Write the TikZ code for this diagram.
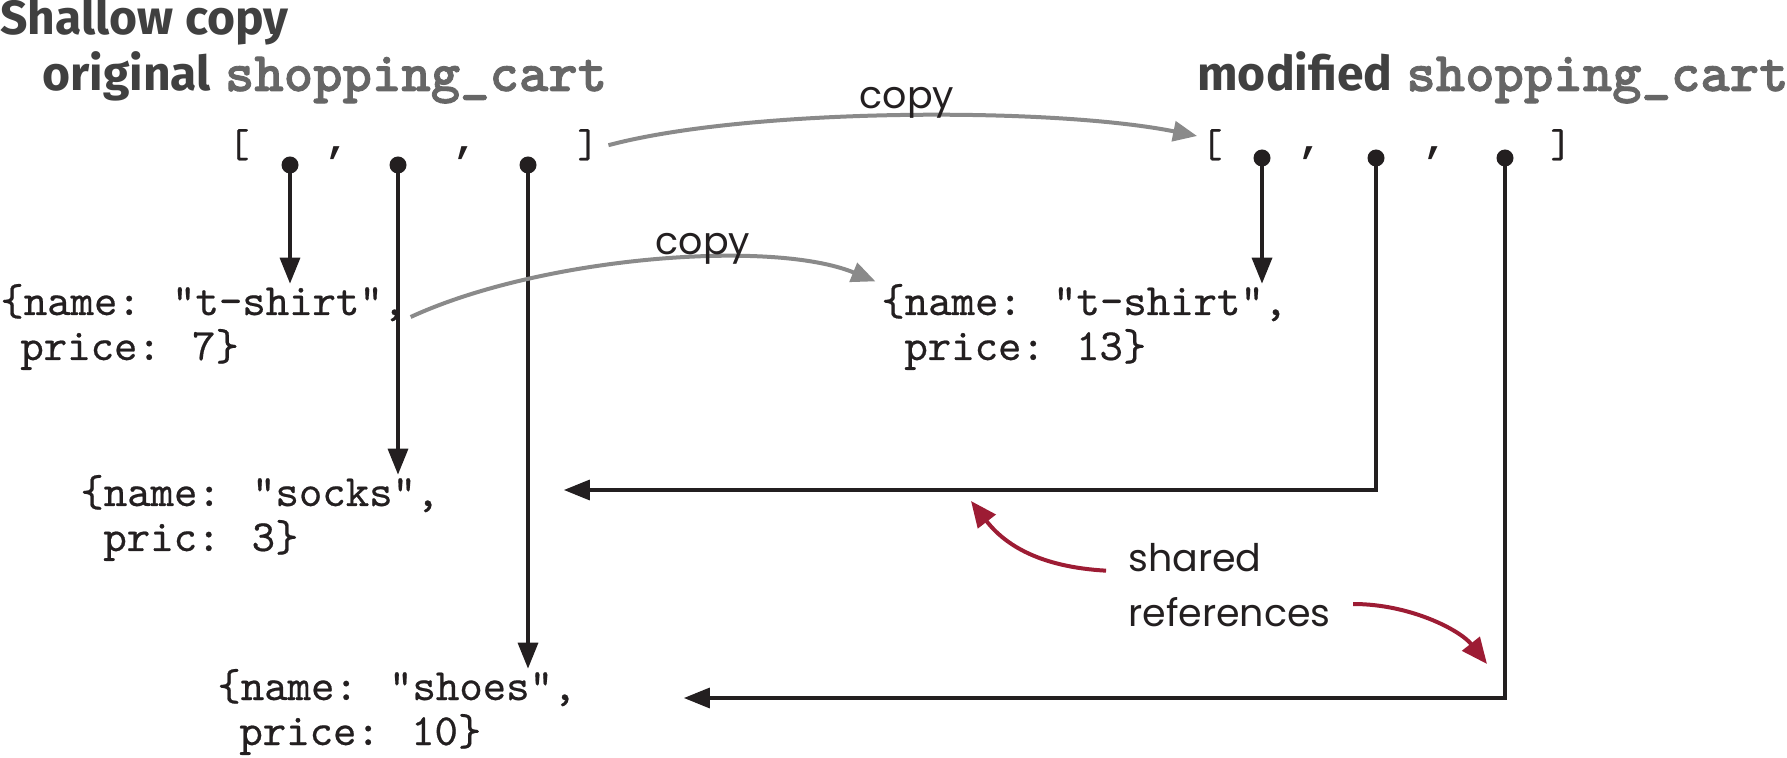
\documentclass[tikz,border=0pt]{standalone}
\usepackage{fontspec}
\setsansfont{Fira Sans}
\newfontfamily\handfont{Poppins}
\newfontfamily\boldmono{lmmonolt10-bold.otf}[FakeBold=1.5]
\newfontfamily\codefont{lmmono10-regular.otf}[FakeBold=0.5]
\newfontfamily\commafont{Liberation Mono}
\usetikzlibrary{arrows.meta,shapes.geometric}
\definecolor{titlegray}{HTML}{404040}
\definecolor{codegray}{HTML}{666666}
\definecolor{inkblack}{HTML}{231F20}
\definecolor{arrowgray}{HTML}{8A8A8A}
\definecolor{refred}{HTML}{9D1C34}
\begin{document}
\begin{tikzpicture}[x=0.5pt,y=-0.5pt,
  code/.style={font=\codefont\fontsize{22.3}{26}\selectfont, text=inkblack, inner sep=0pt, anchor=base west},
  brk/.style={font=\codefont\fontsize{20}{24}\selectfont, text=inkblack, inner sep=0pt, anchor=base west},
  cma/.style={font=\commafont\bfseries\fontsize{20}{24}\selectfont, text=inkblack, inner sep=0pt, anchor=base west},
  head/.style={font=\sffamily\bfseries\fontsize{24}{28}\selectfont, text=titlegray, inner sep=0pt, anchor=base west},
  hand/.style={font=\handfont\fontsize{19}{23}\selectfont, text=inkblack, inner sep=0pt},
  ptr/.style={circle, fill=inkblack, inner sep=0pt, minimum size=8.5pt},
  blk/.style={draw=inkblack, line width=1.7pt, line join=miter, -{Triangle[length=13pt,width=10pt]}},
  cpy/.style={draw=arrowgray, line width=2pt, -{Triangle[length=12pt,width=10pt]}},
  redarr/.style={draw=refred, line width=2pt, -{Triangle[length=13pt,width=11pt]}}
]
\useasboundingbox (0,0) rectangle (1787,758);

% headings
\node[head] (title) at (0,35) {Shallow copy};
\node[head] (origlbl) at (42,91) {original\hspace{7pt}\textcolor{codegray}{\boldmono\fontsize{28}{30}\selectfont shopping\_cart}};
\node[head] (modlbl) at (1197,91) {modified\hspace{7pt}\textcolor{codegray}{\boldmono\fontsize{28}{30}\selectfont shopping\_cart}};

% original list
\node[brk] (lob) at (228,157) {[};
\node[cma] (lc1) at (325,153) {,};
\node[cma] (lc2) at (453,153) {,};
\node[brk] (lcb) at (577,157) {]};
\node[ptr] (ld1) at (290,165) {};
\node[ptr] (ld2) at (398,165) {};
\node[ptr] (ld3) at (528,165) {};

% modified list
\node[brk] (rob) at (1201,157) {[};
\node[cma] (rc1) at (1298,153) {,};
\node[cma] (rc2) at (1423,153) {,};
\node[brk] (rcb) at (1550,157) {]};
\node[ptr] (rd1) at (1262,158) {};
\node[ptr] (rd2) at (1376,158) {};
\node[ptr] (rd3) at (1505,158) {};

% objects
\node[code] (tsL1) at (0,315) {\{name: "t-shirt",};
\node[code] (tsL2) at (20,360) {price: 7\}};
\node[code] (tsR1) at (881,315) {\{name: "t-shirt",};
\node[code] (tsR2) at (904,360) {price: 13\}};
\node[code] (sk1) at (80,506) {\{name: "socks",};
\node[code] (sk2) at (103,551) {pric: 3\}};
\node[code] (sh1) at (217,700) {\{name: "shoes",};
\node[code] (sh2) at (239,745) {price: 10\}};

% pointers of the original list
\draw[blk] (ld1.center) -- (ld1 |- tsL1.north);
\draw[blk] (ld2.center) -- (ld2 |- sk1.north);
\draw[blk] (ld3.center) -- (ld3 |- sh1.north);

% pointers of the modified list
\draw[blk] (rd1.center) -- (rd1 |- tsR1.north);
\draw[blk, shorten >=62pt] (rd2.center) |- ([yshift=8pt]sk1.base east);
\draw[blk, shorten >=53.5pt] (rd3.center) |- ([yshift=1pt]sh1.base east);

% copy arrows
\draw[cpy, shorten <=5pt, shorten >=2pt] ([yshift=-1.5pt]lcb.east) .. controls +(150,-40) and +(-150,-30) .. ([yshift=4pt]rob.west);
\node[hand, anchor=base] (copy1) at (907,109) {copy};
\draw[cpy, shorten >=3pt] ([xshift=2pt,yshift=-1pt]tsL1.base east) .. controls +(130,-60) and +(-110,-45) .. (tsR1.north west);
\node[hand, anchor=base] (copy2) at (703,255) {copy};

% shared references
\node[hand, anchor=west] (shared) at (1128,558) {shared};
\node[hand, anchor=west] (refs) at (1128,612) {references};
\coordinate (r1tip) at (971,501);
\coordinate (r2tip) at (1487,664);
\draw[redarr, shorten <=11pt] (shared.base west) .. controls (1040,567) and (1005,545) .. (r1tip);
\draw[redarr, shorten <=11pt] ([yshift=4pt]refs.east) .. controls (1410,604) and (1460,630) .. (r2tip);
\end{tikzpicture}
\end{document}
